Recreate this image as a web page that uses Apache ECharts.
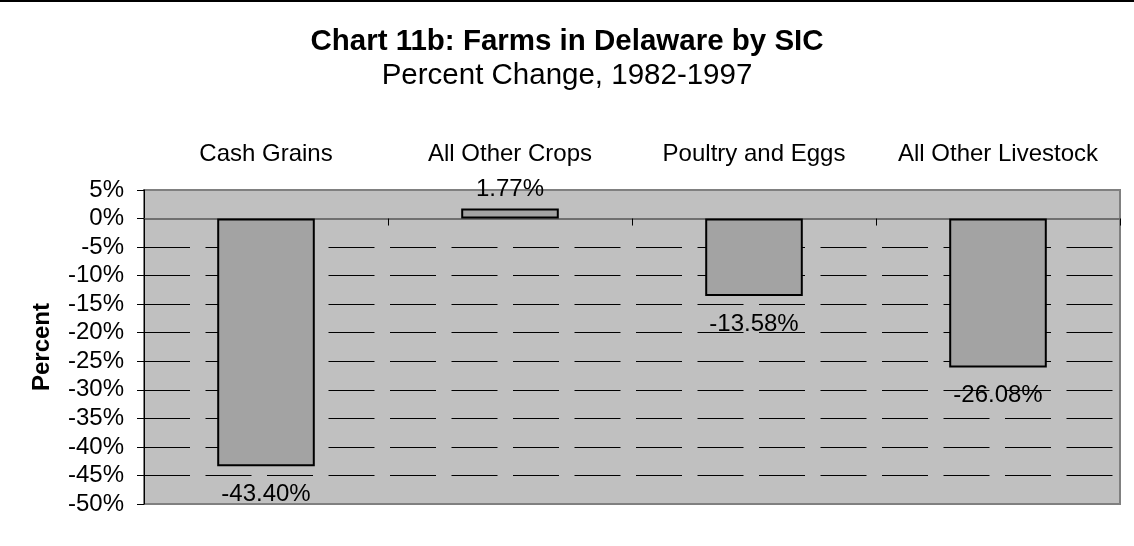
<!DOCTYPE html>
<html>
<head>
<meta charset="utf-8">
<script src="https://cdn.jsdelivr.net/npm/echarts@6/dist/echarts.min.js"></script>
<style>
html,body{margin:0;padding:0;background:#fff;}
#chart{width:1134px;height:546px;}
</style>
</head>
<body>
<div id="chart"></div>
<script>
const categories = ['Cash Grains', 'All Other Crops', 'Poultry and Eggs', 'All Other Livestock'];
const values = [-43.40, 1.77, -13.58, -26.08];
const yMin = -50, yMax = 5, yStep = 5;

const FONT = '"Liberation Sans", Arial, sans-serif';
const chart = echarts.init(document.getElementById('chart'), null, {renderer: 'canvas'});

chart.setOption({
  backgroundColor: '#fff',
  animation: false,
  title: [
    {text: 'Chart 11b: Farms in Delaware by SIC', left: 'center', top: 22,
     textStyle: {fontFamily: FONT, fontSize: 29.5, fontWeight: 'bold', color: '#000'}},
    {text: 'Percent Change, 1982-1997', left: 'center', top: 56,
     textStyle: {fontFamily: FONT, fontSize: 29.5, fontWeight: 'normal', color: '#000'}}
  ],
  graphic: [{type: 'line', shape: {x1: 0, y1: 1, x2: 1134, y2: 1}, style: {stroke: '#000', lineWidth: 2}}],
  grid: {left: 144, right: 14, top: 190, bottom: 42, show: true, backgroundColor: '#C0C0C0', borderColor: '#808080', borderWidth: 2},
  xAxis: [
    {type: 'category', data: categories, position: 'top', axisLine: {show: false, onZero: false},
     axisTick: {show: false},
     axisLabel: {interval: 0, fontFamily: FONT, fontSize: 24, color: '#000', margin: 24}},
    {type: 'category', data: categories, position: 'bottom',
     axisLine: {show: true, onZero: true, lineStyle: {color: '#707070', width: 2}},
     axisTick: {show: true, length: 7, lineStyle: {color: '#000', width: 1}},
     axisLabel: {show: false}}
  ],
  yAxis: {
    type: 'value', min: yMin, max: yMax, interval: yStep,
    name: 'Percent', nameLocation: 'middle', nameRotate: 90, nameGap: 90,
    nameTextStyle: {fontFamily: FONT, fontSize: 24, fontWeight: 'bold', color: '#000'},
    axisLine: {show: true, lineStyle: {color: '#000', width: 1}},
    axisTick: {show: true, length: 7, lineStyle: {color: '#000'}},
    axisLabel: {fontFamily: FONT, fontSize: 24, color: '#000', margin: 20, formatter: '{value}%'},
    splitLine: {show: true, showMinLine: false, showMaxLine: false, lineStyle: {color: '#000', width: 1, type: [46, 15.5]}}
  },
  series: [{
    type: 'bar', xAxisIndex: 0, barWidth: '40%',
    data: values.map(v => ({value: v, label: {position: v >= 0 ? 'top' : 'bottom', distance: v >= 0 ? 7 : 16}})),
    itemStyle: {color: '#A3A3A3', borderColor: '#000', borderWidth: 2},
    label: {show: true, fontFamily: FONT, fontSize: 24, color: '#000',
            formatter: p => p.value.toFixed(2) + '%'}
  }]
});
</script>
</body>
</html>
